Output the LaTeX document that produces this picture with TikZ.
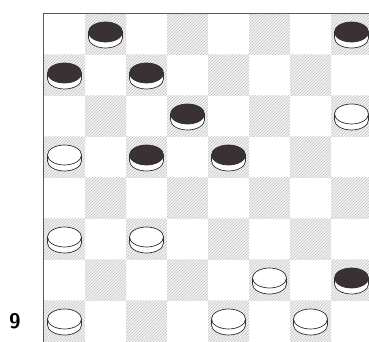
\documentclass[tikz,border=0pt]{standalone}
\usetikzlibrary{patterns}
\definecolor{boardline}{HTML}{5A5A5A}
\definecolor{hatchgray}{HTML}{C4C4C4}
\definecolor{hatchtint}{HTML}{F3F3F3}
\definecolor{pieceblack}{HTML}{3A3232}
\definecolor{rimline}{HTML}{303030}

\begin{document}
\begin{tikzpicture}[x=1pt,y=1pt,
    darksq/.style={fill=hatchtint,postaction={pattern=north east lines,pattern color=hatchgray}},
    frame/.style={draw=boardline,line width=1.8pt},
    rim/.style={fill=white,draw=rimline,line width=0.7pt},
    topblack/.style={fill=pieceblack,draw=rimline,line width=0.7pt},
    topwhite/.style={fill=white,draw=rimline,line width=0.7pt},
    diagno/.style={font=\sffamily\bfseries\fontsize{21}{21}\selectfont,inner sep=0pt}]
    \clip (0,0) rectangle (369,342);
    \fill[white] (0,0) rectangle (369,342);

    % hatched squares
    \foreach \r in {1,...,8} {
      \foreach \c in {1,...,8} {
        \pgfmathtruncatemacro\odd{mod(\r+\c,2)}
        \ifnum\odd=1
          \path[darksq] ({44+(\c-1)*41},{328-(\r-1)*41}) rectangle ++(41,-41);
        \fi
      }
    }

    % board frame
    \coordinate (corner) at (43.5,328.5);
    \draw[frame] (43.5,0) -- (corner) -- (369,328.5);

    % pieces
    \foreach \r/\c/\kind in {1/2/black,1/8/black,2/1/black,2/3/black,
        3/4/black,4/3/black,4/5/black,7/8/black,
        3/8/white,4/1/white,6/1/white,6/3/white,
        7/6/white,8/1/white,8/5/white,8/7/white} {
      \pgfmathsetmacro\px{44+(\c-0.5)*41}
      \pgfmathsetmacro\py{328-(\r-0.5)*41}
      \path[rim] (\px-17,\py+2.5) -- (\px-17,\py-3.5)
        arc[start angle=180,end angle=360,x radius=17,y radius=10]
        -- (\px+17,\py+2.5) -- cycle;
      \path[top\kind] (\px,\py+2.5) ellipse[x radius=17,y radius=10];
    }

    \node[diagno] (diagnum) at (15,21) {9};
\end{tikzpicture}
\end{document}
